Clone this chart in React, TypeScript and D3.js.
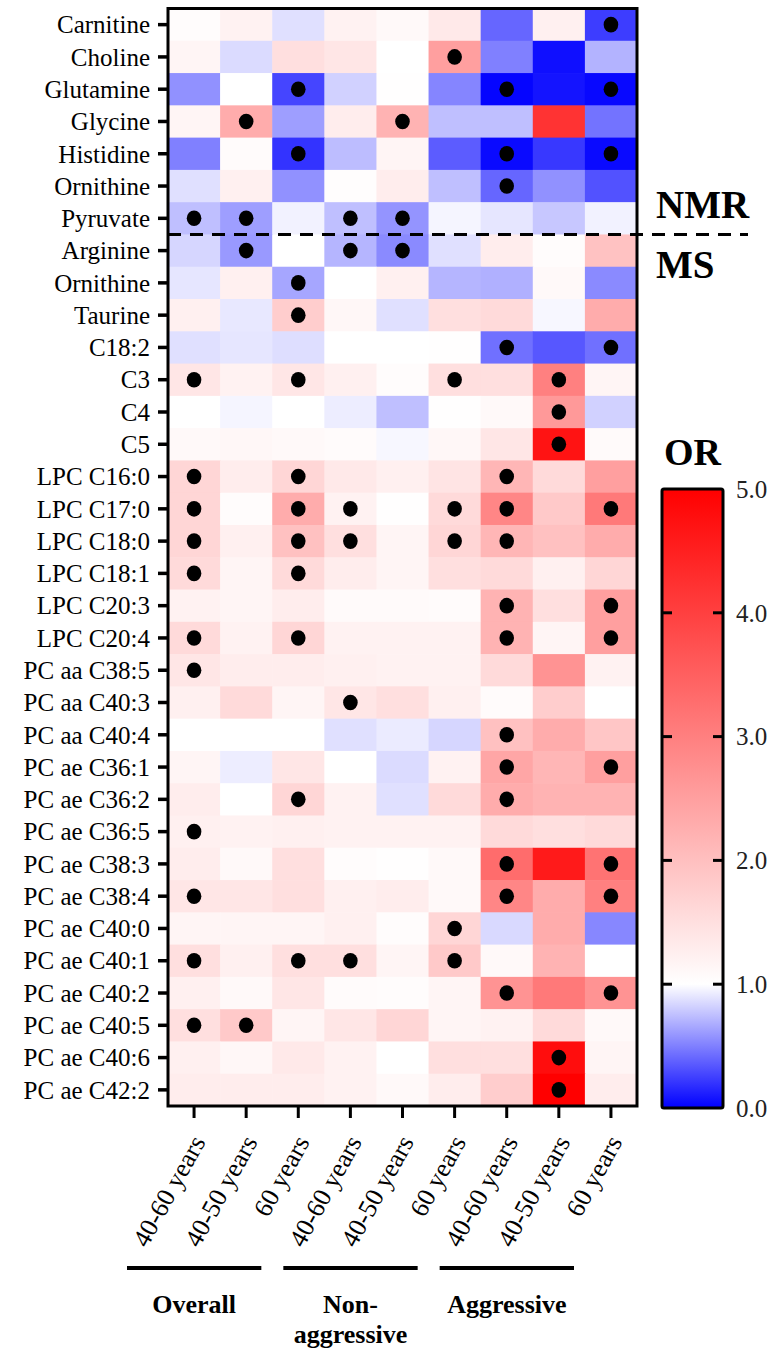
import React from "react";
import * as d3 from "d3";

const metabolites = [
  "Carnitine", "Choline", "Glutamine", "Glycine", "Histidine", "Ornithine", "Pyruvate",
  "Arginine", "Ornithine", "Taurine", "C18:2", "C3", "C4", "C5",
  "LPC C16:0", "LPC C17:0", "LPC C18:0", "LPC C18:1", "LPC C20:3", "LPC C20:4",
  "PC aa C38:5", "PC aa C40:3", "PC aa C40:4",
  "PC ae C36:1", "PC ae C36:2", "PC ae C36:5", "PC ae C38:3", "PC ae C38:4",
  "PC ae C40:0", "PC ae C40:1", "PC ae C40:2", "PC ae C40:5", "PC ae C40:6", "PC ae C42:2",
];

const columns = [
  "40-60 years", "40-50 years", "60 years",
  "40-60 years", "40-50 years", "60 years",
  "40-60 years", "40-50 years", "60 years",
];

const groupNames = [["Overall"], ["Non-", "aggressive"], ["Aggressive"]];
const groupCols = [[0, 2], [3, 5], [6, 8]];

const colorbarTicks = [0, 1, 2, 3, 4, 5];

// odds ratios, one row per metabolite, columns as above
const oddsRatios = [
  [1.04, 1.2, 0.88, 1.2, 1.1, 1.35, 0.4, 1.23, 0.24],
  [1.16, 0.86, 1.5, 1.4, 1.0, 2.5, 0.5, 0.06, 0.7],
  [0.57, 1.0, 0.27, 0.82, 1.01, 0.52, 0.02, 0.08, 0.03],
  [1.16, 2.3, 0.62, 1.29, 2.2, 0.75, 0.75, 4.2, 0.45],
  [0.5, 1.06, 0.2, 0.74, 1.16, 0.36, 0.04, 0.22, 0.04],
  [0.88, 1.23, 0.57, 1.03, 1.29, 0.75, 0.4, 0.57, 0.32],
  [0.75, 0.62, 0.95, 0.75, 0.58, 0.96, 0.9, 0.78, 0.95],
  [0.84, 0.6, 1.0, 0.71, 0.54, 0.88, 1.29, 1.04, 1.95],
  [0.9, 1.23, 0.65, 1.0, 1.23, 0.71, 0.69, 1.1, 0.54],
  [1.23, 0.91, 1.78, 1.13, 0.88, 1.5, 1.58, 0.97, 2.3],
  [0.88, 0.9, 0.87, 1.0, 1.0, 1.01, 0.44, 0.34, 0.44],
  [1.4, 1.2, 1.4, 1.23, 1.04, 1.5, 1.5, 3.0, 1.16],
  [1.0, 0.96, 1.0, 0.93, 0.75, 1.01, 1.1, 2.6, 0.82],
  [1.1, 1.12, 1.1, 1.06, 0.97, 1.12, 1.4, 4.7, 1.08],
  [1.65, 1.29, 1.65, 1.35, 1.23, 1.43, 2.15, 1.58, 2.5],
  [1.65, 1.04, 2.3, 1.2, 1.01, 1.58, 2.9, 1.85, 3.1],
  [1.65, 1.23, 1.98, 1.5, 1.16, 1.65, 2.15, 1.98, 2.3],
  [1.58, 1.16, 1.58, 1.29, 1.16, 1.5, 1.58, 1.23, 1.65],
  [1.2, 1.16, 1.29, 1.08, 1.08, 1.07, 2.2, 1.5, 2.5],
  [1.58, 1.2, 1.65, 1.2, 1.2, 1.2, 2.2, 1.16, 2.5],
  [1.4, 1.29, 1.29, 1.23, 1.2, 1.2, 1.58, 2.7, 1.2],
  [1.23, 1.58, 1.16, 1.4, 1.5, 1.23, 1.07, 1.78, 1.0],
  [1.0, 1.0, 1.0, 0.88, 0.92, 0.84, 1.98, 2.3, 1.9],
  [1.16, 0.93, 1.4, 1.0, 0.86, 1.2, 2.4, 2.15, 2.5],
  [1.29, 1.0, 1.65, 1.2, 0.88, 1.58, 2.3, 2.2, 2.2],
  [1.23, 1.2, 1.23, 1.2, 1.2, 1.2, 1.58, 1.5, 1.58],
  [1.29, 1.1, 1.5, 1.04, 1.01, 1.1, 3.3, 4.6, 3.2],
  [1.4, 1.4, 1.5, 1.23, 1.29, 1.1, 2.9, 2.3, 3.0],
  [1.16, 1.16, 1.16, 1.23, 1.04, 1.65, 0.85, 2.3, 0.53],
  [1.5, 1.23, 1.5, 1.5, 1.16, 1.85, 1.1, 2.2, 1.0],
  [1.23, 1.1, 1.4, 1.06, 1.04, 1.16, 2.7, 3.1, 2.7],
  [1.5, 1.85, 1.16, 1.4, 1.65, 1.16, 1.2, 1.58, 1.1],
  [1.23, 1.13, 1.35, 1.2, 1.0, 1.5, 1.5, 4.8, 1.16],
  [1.29, 1.29, 1.29, 1.2, 1.1, 1.29, 1.78, 5.0, 1.29],
];

// column indices with significant association (black dot)
const significant = [
  [8], [5], [2, 6, 8], [1, 4], [2, 6, 8], [6], [0, 1, 3, 4],
  [1, 3, 4], [2], [2], [6, 8], [0, 2, 5, 7], [7], [7],
  [0, 2, 6], [0, 2, 3, 5, 6, 8], [0, 2, 3, 5, 6], [0, 2], [6, 8], [0, 2, 6, 8],
  [0], [3], [6],
  [6, 8], [2, 6], [0], [6, 8], [0, 6, 8], [5], [0, 2, 3, 5], [6, 8], [0, 1], [7], [7],
];

const NMR_COUNT = 7;

const FONT = "\"Liberation Serif\", Tinos, \"Times New Roman\", \"DejaVu Serif\", \"Noto Serif\", serif";

export default function App() {
  const W = 773, H = 1350;
  const hx0 = 168, hx1 = 637, hy0 = 8.5, hy1 = 1106;

  const x = d3.scaleBand<number>().domain(d3.range(columns.length)).range([hx0, hx1]);
  const y = d3.scaleBand<number>().domain(d3.range(metabolites.length)).range([hy0, hy1]);
  const color = d3.scaleLinear<string>().domain([0, 1, 5]).range(["#0000ff", "#ffffff", "#ff0000"]).clamp(true);

  const cbX0 = 662, cbX1 = 723, cbTop = 489, cbBot = 1108;
  const cb = d3.scaleLinear().domain([0, 5]).range([cbBot, cbTop]);

  const bw = x.bandwidth();
  const bh = y.bandwidth();
  const dashY = y(NMR_COUNT)!;

  const txt = (size: number, bold = false): React.CSSProperties => ({
    fontFamily: FONT,
    fontSize: `${size}px`,
    fontWeight: bold ? 700 : 400,
  });

  return (
    <svg width={W} height={H} style={{ position: "absolute", left: 0, top: 0, display: "block", background: "#fff" }}>
      <defs>
        <linearGradient id="orGrad" x1="0" y1="1" x2="0" y2="0">
          <stop offset="0%" stopColor={color(0)} />
          <stop offset={`${(1 / 5) * 100}%`} stopColor={color(1)} />
          <stop offset="100%" stopColor={color(5)} />
        </linearGradient>
      </defs>

      {oddsRatios.map((row, ri) =>
        row.map((v, ci) => (
          <rect key={`c${ri}-${ci}`} x={x(ci)!} y={y(ri)!} width={bw + 0.6} height={bh + 0.6} fill={color(v)} />
        ))
      )}

      {significant.map((cols, ri) =>
        cols.map((ci) => (
          <ellipse key={`d${ri}-${ci}`} cx={x(ci)! + bw / 2} cy={y(ri)! + bh / 2} rx={7.3} ry={7.8} fill="#000" />
        ))
      )}

      <rect x={hx0} y={hy0} width={hx1 - hx0} height={hy1 - hy0} fill="none" stroke="#000" strokeWidth={3} />

      {metabolites.map((m, ri) => (
        <g key={`r${ri}`}>
          <line x1={158} x2={hx0} y1={y(ri)! + bh / 2} y2={y(ri)! + bh / 2} stroke="#000" strokeWidth={3.5} />
          <text x={150} y={y(ri)! + bh / 2} dy="0.35em" textAnchor="end" style={txt(25)} fill="#000">
            {m}
          </text>
        </g>
      ))}

      {columns.map((c, ci) => {
        const cx = x(ci)! + bw / 2;
        return (
          <g key={`x${ci}`}>
            <line x1={cx} x2={cx} y1={hy1} y2={hy1 + 12} stroke="#000" strokeWidth={3} />
            <text
              transform={`translate(${cx + 12},${hy1 + 36}) rotate(-61)`}
              textAnchor="end"
              style={txt(26)}
              fill="#000"
            >
              {c}
            </text>
          </g>
        );
      })}

      <line x1={hx0} x2={748} y1={dashY} y2={dashY} stroke="#000" strokeWidth={3} strokeDasharray="13,9" />
      <text x={656} y={218} style={txt(39, true)} fill="#000">NMR</text>
      <text x={656} y={278} style={txt(39, true)} fill="#000">MS</text>

      {groupCols.map(([a, b], gi) => {
        const lx0 = x(a)! - 41;
        const lx1 = x(b)! + bw - 63;
        const mid = (lx0 + lx1) / 2;
        return (
          <g key={`g${gi}`}>
            <line x1={lx0} x2={lx1} y1={1268} y2={1268} stroke="#000" strokeWidth={4} />
            {groupNames[gi].map((t, li) => (
              <text key={li} x={mid} y={1313 + li * 30} textAnchor="middle" style={txt(26, true)} fill="#000">
                {t}
              </text>
            ))}
          </g>
        );
      })}

      <text x={(cbX0 + cbX1) / 2} y={465} textAnchor="middle" style={txt(38, true)} fill="#000">OR</text>
      <rect x={cbX0} y={cbTop} width={cbX1 - cbX0} height={cbBot - cbTop} fill="url(#orGrad)" stroke="#000" strokeWidth={3} rx={2} />
      {colorbarTicks.map((t) => (
        <g key={`t${t}`}>
          {t > 0 && t < 5 && (
            <>
              <line x1={cbX0} x2={cbX0 + 10} y1={cb(t)} y2={cb(t)} stroke="#000" strokeWidth={3} />
              <line x1={cbX1 - 10} x2={cbX1} y1={cb(t)} y2={cb(t)} stroke="#000" strokeWidth={3} />
            </>
          )}
          <text x={736} y={cb(t)} dy="0.35em" style={txt(25)} fill="#222">
            {d3.format(".1f")(t)}
          </text>
        </g>
      ))}
    </svg>
  );
}
